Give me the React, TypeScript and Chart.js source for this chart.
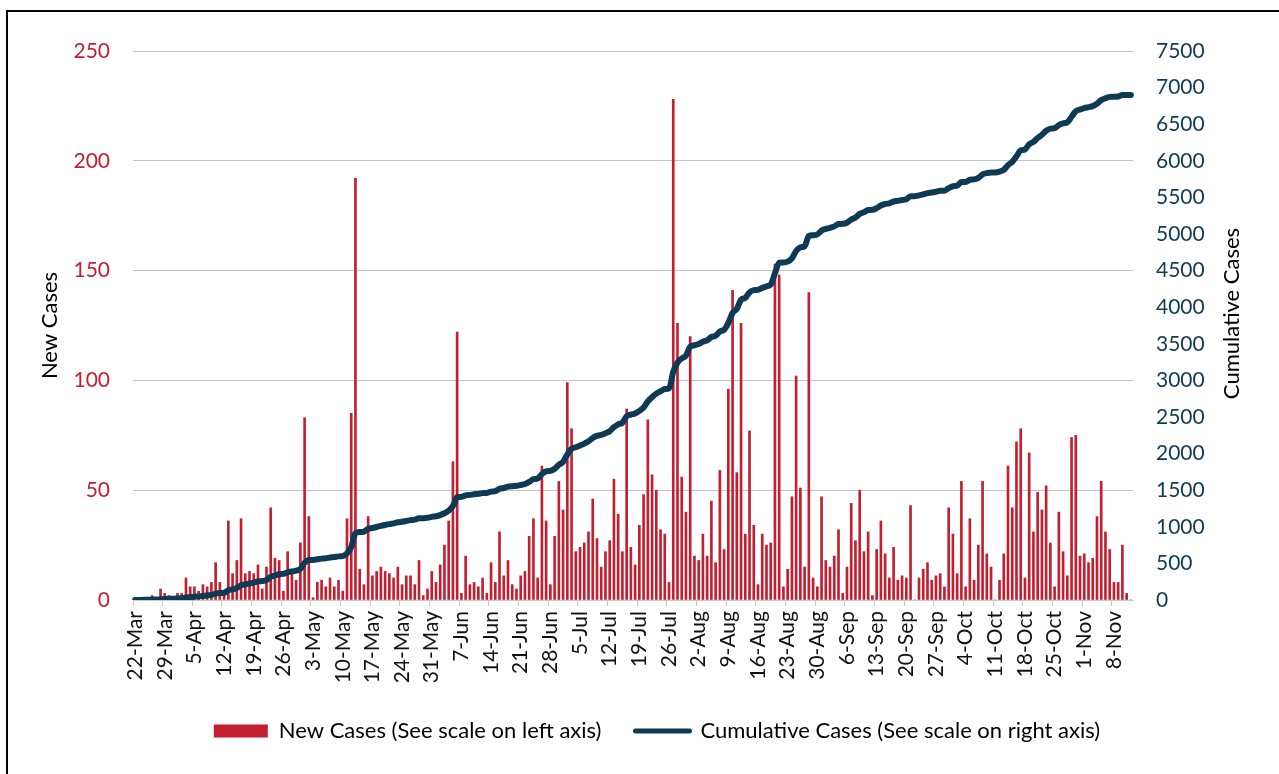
import React, { useEffect, useRef } from 'react';
import { Chart, registerables } from 'chart.js';

Chart.register(...registerables);

// ---------- DATA ----------
const startDate = '2020-03-22';
const dayCount = 236; // 22-Mar .. 12-Nov

const newCases: number[] = [
  1, 0, 1, 1, 2, 1, 5, 3, 2, 1,
  3, 3, 10, 6, 6, 4, 7, 6, 8, 17,
  8, 3, 36, 12, 18, 37, 12, 13, 12, 16,
  5, 15, 42, 19, 18, 4, 22, 12, 9, 26,
  83, 38, 1, 8, 9, 6, 10, 6, 9, 4,
  37, 85, 192, 14, 7, 38, 11, 13, 15, 13,
  12, 10, 15, 7, 11, 11, 7, 18, 2, 5,
  13, 8, 16, 25, 36, 63, 122, 3, 20, 7,
  8, 6, 10, 3, 17, 8, 31, 11, 18, 7,
  5, 11, 13, 29, 37, 10, 61, 36, 7, 29,
  54, 41, 99, 78, 22, 24, 26, 31, 46, 28,
  15, 22, 27, 55, 39, 22, 87, 24, 16, 34,
  48, 82, 57, 50, 32, 30, 8, 228, 126, 56,
  40, 120, 20, 18, 30, 20, 45, 17, 59, 23,
  96, 141, 58, 126, 30, 77, 34, 7, 30, 25,
  26, 153, 148, 6, 14, 47, 102, 51, 15, 140,
  10, 6, 47, 18, 15, 20, 32, 3, 15, 44,
  27, 50, 22, 31, 2, 23, 36, 21, 10, 24,
  9, 11, 10, 43, 0, 10, 14, 17, 9, 11,
  12, 6, 42, 30, 12, 54, 6, 37, 9, 25,
  54, 21, 15, 0, 9, 21, 61, 42, 72, 78,
  10, 67, 31, 49, 41, 52, 26, 6, 40, 22,
  11, 74, 75, 20, 21, 17, 19, 38, 54, 31,
  23, 8, 8, 25, 3, 0,
];

const cumulativeCases: number[] = [
  1, 1, 2, 3, 5, 6, 11, 14, 16, 17,
  20, 23, 33, 39, 45, 49, 56, 62, 70, 87,
  95, 98, 134, 146, 164, 201, 213, 226, 238, 254,
  259, 274, 316, 335, 353, 357, 379, 391, 400, 426,
  509, 547, 548, 556, 565, 571, 581, 587, 596, 600,
  637, 722, 914, 928, 935, 973, 984, 997, 1012, 1025,
  1037, 1047, 1062, 1069, 1080, 1091, 1098, 1116, 1118, 1123,
  1136, 1144, 1160, 1185, 1221, 1284, 1406, 1409, 1429, 1436,
  1444, 1450, 1460, 1463, 1480, 1488, 1519, 1530, 1548, 1555,
  1560, 1571, 1584, 1613, 1650, 1660, 1721, 1757, 1764, 1793,
  1847, 1888, 1987, 2065, 2087, 2111, 2137, 2168, 2214, 2242,
  2257, 2279, 2306, 2361, 2400, 2422, 2509, 2533, 2549, 2583,
  2631, 2713, 2770, 2820, 2852, 2882, 2890, 3118, 3244, 3300,
  3340, 3460, 3480, 3498, 3528, 3548, 3593, 3610, 3669, 3692,
  3785, 3923, 3978, 4101, 4128, 4202, 4233, 4237, 4264, 4286,
  4310, 4461, 4607, 4611, 4623, 4668, 4768, 4818, 4833, 4973,
  4983, 4994, 5046, 5069, 5084, 5104, 5136, 5139, 5154, 5198,
  5225, 5275, 5297, 5328, 5330, 5353, 5389, 5410, 5420, 5444,
  5453, 5464, 5474, 5517, 5517, 5527, 5541, 5558, 5567, 5578,
  5590, 5591, 5628, 5653, 5660, 5709, 5710, 5742, 5746, 5766,
  5815, 5831, 5841, 5841, 5853, 5877, 5941, 5986, 6061, 6142,
  6155, 6225, 6259, 6311, 6355, 6410, 6439, 6446, 6488, 6512,
  6525, 6601, 6678, 6700, 6721, 6733, 6747, 6780, 6829, 6855,
  6873, 6876, 6879, 6899, 6899, 6899,
];

const leftTicks = [0, 50, 100, 150, 200, 250];
const rightTicks = [0, 500, 1000, 1500, 2000, 2500, 3000, 3500, 4000, 4500, 5000, 5500, 6000, 6500, 7000, 7500];
const labelEvery = 7;

const monthNames = ['Jan', 'Feb', 'Mar', 'Apr', 'May', 'Jun', 'Jul', 'Aug', 'Sep', 'Oct', 'Nov', 'Dec'];
const categories: string[] = [];
{
  const d0 = new Date(startDate + 'T00:00:00Z');
  for (let i = 0; i < dayCount; i++) {
    const d = new Date(d0.getTime() + i * 86400000);
    categories.push(d.getUTCDate() + '-' + monthNames[d.getUTCMonth()]);
  }
}

// ---------- STYLE ----------
const RED = '#C41F30';
const NAVY = '#0F3A56';
const FONT = 'Lato';

const axisTitlePlugin = {
  id: 'axisTitlePlugin',
  afterDraw(chart: any) {
    const { ctx, chartArea } = chart;
    const cy = (chartArea.top + chartArea.bottom) / 2;
    ctx.save();
    ctx.font = `22px ${FONT}`;
    ctx.fillStyle = '#000000';
    ctx.textAlign = 'center';
    ctx.textBaseline = 'middle';
    ctx.save();
    ctx.translate(50, cy);
    ctx.rotate(-Math.PI / 2);
    ctx.fillText('New Cases', 0, 0);
    ctx.restore();
    ctx.save();
    ctx.translate(1232, cy - 12);
    ctx.rotate(-Math.PI / 2);
    ctx.fillText('Cumulative Cases', 0, 0);
    ctx.restore();
    ctx.restore();
  },
};

export default function App() {
  const canvasRef = useRef<HTMLCanvasElement | null>(null);

  useEffect(() => {
    document.body.style.margin = '0';
    document.body.style.overflow = 'hidden';
    const canvas = canvasRef.current;
    if (!canvas) return;
    const chart = new Chart(canvas, {
      type: 'bar',
      data: {
        labels: categories,
        datasets: [
          {
            type: 'bar',
            label: 'New Cases (See scale on left axis)',
            data: newCases,
            backgroundColor: RED,
            borderWidth: 0,
            barThickness: 2,
            yAxisID: 'y',
            order: 1,
          } as any,
          {
            type: 'line',
            label: 'Cumulative Cases (See scale on right axis)',
            data: cumulativeCases,
            borderColor: NAVY,
            backgroundColor: NAVY,
            borderWidth: 6,
            pointRadius: 0,
            cubicInterpolationMode: 'monotone',
            borderCapStyle: 'round',
            borderJoinStyle: 'round',
            yAxisID: 'y1',
            order: 0,
          } as any,
        ],
      },
      options: {
        animation: false,
        responsive: false,
        maintainAspectRatio: false,
        layout: { padding: { left: 35, right: 0, top: 51, bottom: 22 } },
        plugins: {
          tooltip: { enabled: false },
          legend: {
            position: 'bottom',
            labels: {
              usePointStyle: true,
              pointStyleWidth: 54,
              boxHeight: 13,
              padding: 34,
              color: '#111111',
              font: { family: FONT, size: 22 },
              generateLabels: () => [
                {
                  text: 'New Cases (See scale on left axis)',
                  fillStyle: RED,
                  strokeStyle: RED,
                  lineWidth: 0,
                  pointStyle: 'rect',
                  hidden: false,
                  datasetIndex: 0,
                },
                {
                  text: 'Cumulative Cases (See scale on right axis)',
                  fillStyle: NAVY,
                  strokeStyle: NAVY,
                  lineWidth: 5,
                  lineCap: 'round',
                  pointStyle: 'line',
                  hidden: false,
                  datasetIndex: 1,
                },
              ],
            },
          },
        },
        scales: {
          x: {
            type: 'category',
            offset: true,
            afterFit: (s: any) => { s.height = 86; },
            grid: {
              offset: true,
              drawOnChartArea: false,
              drawTicks: true,
              tickLength: 6,
              tickColor: (c: any) => (c.index % labelEvery === 0 ? '#C8C8C8' : 'rgba(0,0,0,0)'),
            },
            border: { display: true, color: '#C8C8C8', width: 1 },
            ticks: {
              autoSkip: false,
              minRotation: 90,
              maxRotation: 90,
              padding: 5,
              color: '#111111',
              font: { family: FONT, size: 21 },
              callback: (_v: any, i: number) => (i % labelEvery === 0 ? categories[i] : ''),
            },
          },
          y: {
            position: 'left',
            min: 0,
            max: 250,
            afterFit: (s: any) => { s.width = 98; },
            afterBuildTicks: (s: any) => { s.ticks = leftTicks.map((v) => ({ value: v })); },
            grid: { color: '#C4C4C4', lineWidth: 1, drawTicks: false },
            border: { display: false },
            ticks: {
              padding: 23,
              color: RED,
              font: { family: FONT, size: 21 },
              callback: (v: any) => String(v),
            },
          },
          y1: {
            position: 'right',
            min: 0,
            max: 7500,
            afterFit: (s: any) => { s.width = 146; },
            afterBuildTicks: (s: any) => { s.ticks = rightTicks.map((v) => ({ value: v })); },
            grid: { drawOnChartArea: false, drawTicks: false },
            border: { display: false },
            ticks: {
              padding: 23,
              color: NAVY,
              font: { family: FONT, size: 21 },
              callback: (v: any) => String(v),
            },
          },
        },
      },
      plugins: [axisTitlePlugin],
    });
    return () => chart.destroy();
  }, []);

  return (
    <div style={{ position: 'relative', width: 1279, height: 774, overflow: 'hidden', background: '#ffffff' }}>
      <canvas ref={canvasRef} width={1279} height={774} style={{ position: 'absolute', left: 0, top: 0, width: 1279, height: 774 }} />
      <div
        style={{
          position: 'absolute',
          left: 6,
          top: 10,
          width: 1400,
          height: 900,
          border: '2px solid #000000',
          pointerEvents: 'none',
        }}
      />
    </div>
  );
}
